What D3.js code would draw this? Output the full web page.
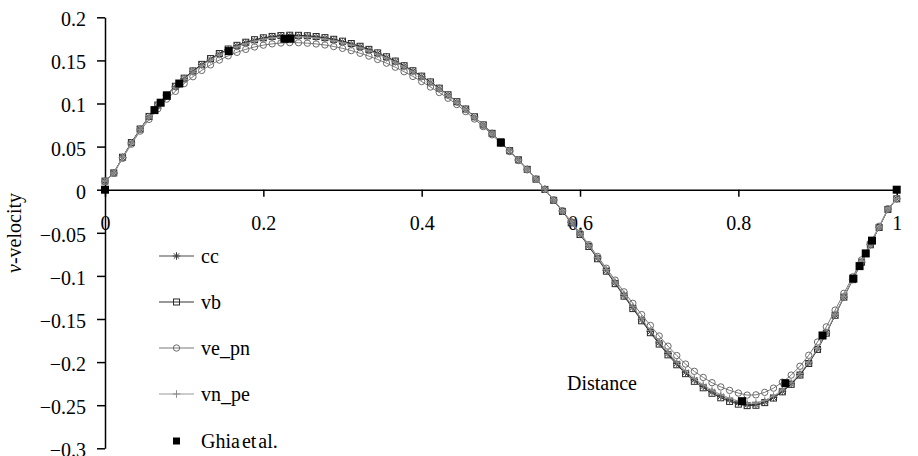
<!DOCTYPE html>
<html>
<head>
<meta charset="utf-8">
<script src="https://cdn.jsdelivr.net/npm/d3@7"></script>
<style>
  body { margin: 0; background: #fff; }
  svg text { font-family: "Liberation Serif", "Times New Roman", "DejaVu Serif", Times, serif; fill: #000; }
</style>
</head>
<body>
<svg id="chart" width="918" height="456"></svg>
<script>
// Mesh node positions along the horizontal centre line
const gridX = [
  0, 0.0111, 0.0222, 0.0333, 0.0444, 0.0556, 0.0667, 0.0778, 0.0889, 0.1,
  0.1111, 0.1222, 0.1333, 0.1444, 0.1556, 0.1667, 0.1778, 0.1889, 0.2,
  0.2111, 0.2222, 0.2333, 0.2444, 0.2556, 0.2667, 0.2778, 0.2889, 0.3,
  0.3111, 0.3222, 0.3333, 0.3444, 0.3556, 0.3667, 0.3778, 0.3889, 0.4,
  0.4111, 0.4222, 0.4333, 0.4444, 0.4556, 0.4667, 0.4778, 0.4889, 0.5,
  0.5111, 0.5222, 0.5333, 0.5444, 0.5556, 0.5667, 0.5778, 0.5889, 0.6,
  0.6111, 0.6222, 0.6333, 0.6444, 0.6556, 0.6667, 0.6778, 0.6889, 0.7,
  0.7111, 0.7222, 0.7333, 0.7444, 0.7556, 0.7667, 0.7778, 0.7889, 0.8,
  0.8111, 0.8222, 0.8333, 0.8444, 0.8556, 0.8667, 0.8778, 0.8889, 0.9,
  0.9111, 0.9222, 0.9333, 0.9444, 0.9556, 0.9667, 0.9778, 0.9889, 1
];

// v-velocity for each scheme
const cc = [
  0.0100, 0.0194, 0.0375, 0.0544, 0.0701, 0.0846, 0.0978, 0.1098, 0.1195, 0.1289, 0.1373,
  0.1449, 0.1516, 0.1575, 0.1626, 0.1669, 0.1705, 0.1734, 0.1756, 0.1772, 0.1782,
  0.1786, 0.1785, 0.1780, 0.1771, 0.1758, 0.1739, 0.1717, 0.1690, 0.1658, 0.1623,
  0.1582, 0.1537, 0.1488, 0.1434, 0.1376, 0.1314, 0.1247, 0.1175, 0.1099, 0.1019,
  0.0934, 0.0845, 0.0751, 0.0653, 0.0555, 0.0453, 0.0347, 0.0237, 0.0123, 0.0005,
  -0.0121, -0.0249, -0.0380, -0.0515, -0.0653, -0.0794, -0.0937, -0.1081, -0.1225, -0.1368,
  -0.1509, -0.1646, -0.1777, -0.1901, -0.2015, -0.2118, -0.2206, -0.2281, -0.2344, -0.2396,
  -0.2438, -0.2470, -0.2495, -0.2492, -0.2462, -0.2410, -0.2338, -0.2252, -0.2145, -0.2012,
  -0.1850, -0.1662, -0.1455, -0.1245, -0.1042, -0.0840, -0.0638, -0.0437, -0.0228, -0.0105
];
const vb = [
  0.0100, 0.0195, 0.0377, 0.0547, 0.0704, 0.0850, 0.0982, 0.1102, 0.1200, 0.1294, 0.1378,
  0.1454, 0.1521, 0.1580, 0.1632, 0.1675, 0.1711, 0.1740, 0.1762, 0.1778, 0.1788,
  0.1792, 0.1791, 0.1786, 0.1777, 0.1764, 0.1745, 0.1723, 0.1696, 0.1664, 0.1628,
  0.1587, 0.1542, 0.1492, 0.1438, 0.1380, 0.1317, 0.1250, 0.1178, 0.1101, 0.1021,
  0.0936, 0.0846, 0.0752, 0.0654, 0.0556, 0.0453, 0.0347, 0.0236, 0.0122, 0.0003,
  -0.0123, -0.0252, -0.0384, -0.0520, -0.0659, -0.0801, -0.0945, -0.1090, -0.1235, -0.1379,
  -0.1521, -0.1659, -0.1791, -0.1916, -0.2031, -0.2134, -0.2223, -0.2298, -0.2362, -0.2414,
  -0.2456, -0.2488, -0.2505, -0.2501, -0.2470, -0.2417, -0.2345, -0.2258, -0.2150, -0.2016,
  -0.1853, -0.1664, -0.1457, -0.1246, -0.1043, -0.0841, -0.0639, -0.0438, -0.0229, -0.0106
];
const vePn = [
  0.0096, 0.0188, 0.0364, 0.0528, 0.0680, 0.0816, 0.0939, 0.1051, 0.1141, 0.1231, 0.1311,
  0.1384, 0.1448, 0.1504, 0.1553, 0.1594, 0.1628, 0.1656, 0.1677, 0.1692, 0.1702,
  0.1706, 0.1705, 0.1700, 0.1691, 0.1679, 0.1661, 0.1640, 0.1614, 0.1583, 0.1550,
  0.1511, 0.1468, 0.1421, 0.1369, 0.1314, 0.1255, 0.1191, 0.1128, 0.1061, 0.0988,
  0.0906, 0.0820, 0.0732, 0.0637, 0.0541, 0.0442, 0.0338, 0.0231, 0.0120, 0.0005,
  -0.0118, -0.0243, -0.0371, -0.0502, -0.0637, -0.0774, -0.0911, -0.1049, -0.1185, -0.1318,
  -0.1449, -0.1575, -0.1697, -0.1815, -0.1924, -0.2023, -0.2107, -0.2178, -0.2239, -0.2288,
  -0.2328, -0.2359, -0.2383, -0.2380, -0.2351, -0.2302, -0.2233, -0.2151, -0.2048, -0.1921,
  -0.1767, -0.1591, -0.1397, -0.1202, -0.1011, -0.0815, -0.0619, -0.0424, -0.0221, -0.0102
];
const vnPe = [
  0.0100, 0.0193, 0.0374, 0.0542, 0.0698, 0.0842, 0.0973, 0.1092, 0.1189, 0.1282, 0.1365,
  0.1441, 0.1507, 0.1566, 0.1616, 0.1659, 0.1695, 0.1724, 0.1746, 0.1761, 0.1771,
  0.1775, 0.1774, 0.1769, 0.1760, 0.1747, 0.1729, 0.1707, 0.1680, 0.1648, 0.1613,
  0.1573, 0.1528, 0.1480, 0.1426, 0.1369, 0.1307, 0.1241, 0.1170, 0.1094, 0.1015,
  0.0930, 0.0842, 0.0749, 0.0651, 0.0553, 0.0452, 0.0346, 0.0236, 0.0123, 0.0006,
  -0.0119, -0.0246, -0.0376, -0.0510, -0.0647, -0.0787, -0.0929, -0.1072, -0.1215, -0.1357,
  -0.1497, -0.1633, -0.1763, -0.1886, -0.1999, -0.2101, -0.2189, -0.2263, -0.2325, -0.2377,
  -0.2419, -0.2451, -0.2476, -0.2474, -0.2445, -0.2394, -0.2323, -0.2238, -0.2132, -0.2001,
  -0.1841, -0.1654, -0.1449, -0.1240, -0.1038, -0.0837, -0.0636, -0.0436, -0.0227, -0.0105
];

// Benchmark points (Ghia et al.)
const ghiaX = [1.0000, 0.9688, 0.9609, 0.9531, 0.9453, 0.9063, 0.8594, 0.8047, 0.5000,
               0.2344, 0.2266, 0.1563, 0.0938, 0.0781, 0.0703, 0.0625, 0.0000];
const ghiaV = [0.00000, -0.05906, -0.07391, -0.08864, -0.10313, -0.16914, -0.22445, -0.24533, 0.05454,
               0.17527, 0.17507, 0.16077, 0.12317, 0.10890, 0.10091, 0.09233, 0.00000];

const seriesNames = ["cc", "vb", "ve_pn", "vn_pe"];
const ghiaName = "Ghia et al.";
const xTicks = [0, 0.2, 0.4, 0.6, 0.8, 1];
const yTicks = [0.2, 0.15, 0.1, 0.05, 0, -0.05, -0.1, -0.15, -0.2, -0.25, -0.3];

const FONT = '"Liberation Serif", "Times New Roman", "DejaVu Serif", Times, serif';

const svg = d3.select("#chart");
const x = d3.scaleLinear().domain([0, 1]).range([105, 896.7]);
const y = d3.scaleLinear().domain([-0.3, 0.2]).range([448.3, 17.3]);
const fmt = d3.format("");

// Axes: vertical axis at x = 0, horizontal axis through v = 0
const yAxis = svg.append("g")
  .attr("transform", `translate(${x(0)},0)`)
  .call(d3.axisLeft(y).tickValues(yTicks).tickFormat(fmt).tickSize(8).tickSizeOuter(0).tickPadding(11));
const xAxis = svg.append("g")
  .attr("transform", `translate(0,${y(0)})`)
  .call(d3.axisBottom(x).tickValues(xTicks).tickFormat(fmt).tickSize(7).tickSizeOuter(0).tickPadding(19));

[yAxis, xAxis].forEach(g => {
  g.attr("font-family", FONT).attr("font-size", 20);
  g.selectAll("path.domain").attr("stroke", "#000").attr("stroke-width", 1.5);
  g.selectAll(".tick line").attr("stroke", "#000").attr("stroke-width", 1.5);
  g.selectAll(".tick text").style("font-family", FONT).style("font-size", "20px").attr("fill", "#000");
});
yAxis.selectAll(".tick text").attr("dy", "0.42em");

// Marker shapes
const asterisk = "M-3.8,0H3.8M0,-3.8V3.8M-2.7,-2.7L2.7,2.7M-2.7,2.7L2.7,-2.7";
const plus = "M-3.8,0H3.8M0,-3.8V3.8";
function drawMarker(g, kind, color) {
  if (kind === "asterisk") g.append("path").attr("d", asterisk).attr("stroke", color).attr("stroke-width", 1).attr("fill", "none");
  else if (kind === "square") g.append("rect").attr("x", -3).attr("y", -3).attr("width", 6).attr("height", 6)
    .attr("stroke", color).attr("stroke-width", 1).attr("fill", "none");
  else if (kind === "circle") g.append("circle").attr("r", 3.2).attr("stroke", color).attr("stroke-width", 1).attr("fill", "none");
  else if (kind === "plus") g.append("path").attr("d", plus).attr("stroke", color).attr("stroke-width", 1).attr("fill", "none");
  else if (kind === "ghia") g.append("rect").attr("x", -4).attr("y", -4).attr("width", 8).attr("height", 8).attr("fill", "#000");
}

const styles = [
  { name: seriesNames[0], values: cc,   line: "#4a4a4a", marker: "asterisk", mcolor: "#3c3c3c" },
  { name: seriesNames[1], values: vb,   line: "#333333", marker: "square",   mcolor: "#2a2a2a" },
  { name: seriesNames[2], values: vePn, line: "#7a7a7a", marker: "circle",   mcolor: "#6a6a6a" },
  { name: seriesNames[3], values: vnPe, line: "#9a9a9a", marker: "plus",     mcolor: "#8c8c8c" }
];

const line = d3.line().x((d, i) => x(gridX[i])).y(d => y(d));
const plot = svg.append("g");

styles.forEach(s => {
  plot.append("path").datum(s.values).attr("d", line)
    .attr("fill", "none").attr("stroke", s.line).attr("stroke-width", 1);
  const pts = plot.append("g");
  s.values.forEach((v, i) => {
    const g = pts.append("g").attr("transform", `translate(${x(gridX[i])},${y(v)})`);
    drawMarker(g, s.marker, s.mcolor);
  });
});

// Benchmark markers on top
const ghiaG = plot.append("g");
ghiaX.forEach((gx, i) => {
  const g = ghiaG.append("g").attr("transform", `translate(${x(gx)},${y(ghiaV[i])})`);
  drawMarker(g, "ghia", "#000");
});

// Legend
const legend = svg.append("g");
const legendItems = styles.map(s => ({ name: s.name, line: s.line, marker: s.marker, mcolor: s.mcolor }))
  .concat([{ name: ghiaName, line: null, marker: "ghia", mcolor: "#000" }]);
const legendY = [256, 302, 348, 394, 441];
legendItems.forEach((it, i) => {
  const g = legend.append("g").attr("transform", `translate(0,${legendY[i]})`);
  if (it.line) g.append("line").attr("x1", 159).attr("x2", 194).attr("stroke", it.line).attr("stroke-width", 1.2);
  const m = g.append("g").attr("transform", "translate(176.5,0)");
  drawMarker(m, it.marker, it.mcolor);
  if (it.marker === "ghia") m.select("rect").attr("x", -3.5).attr("y", -3.5).attr("width", 7).attr("height", 7);
  g.append("text").attr("x", 201).attr("y", 0).attr("dy", "0.33em")
    .style("font-family", FONT).style("font-size", "20px")
    .attr("word-spacing", it.marker === "ghia" ? -3 : 0).text(it.name);
});

// Axis titles
svg.append("text").attr("x", 602).attr("y", 390).attr("text-anchor", "middle")
  .style("font-family", FONT).style("font-size", "20px").text("Distance");
const yt = svg.append("text").attr("transform", "translate(21,233) rotate(-90)")
  .attr("text-anchor", "middle").style("font-family", FONT).style("font-size", "20px");
yt.append("tspan").attr("font-style", "italic").text("v");
yt.append("tspan").text("-velocity");
</script>
</body>
</html>
